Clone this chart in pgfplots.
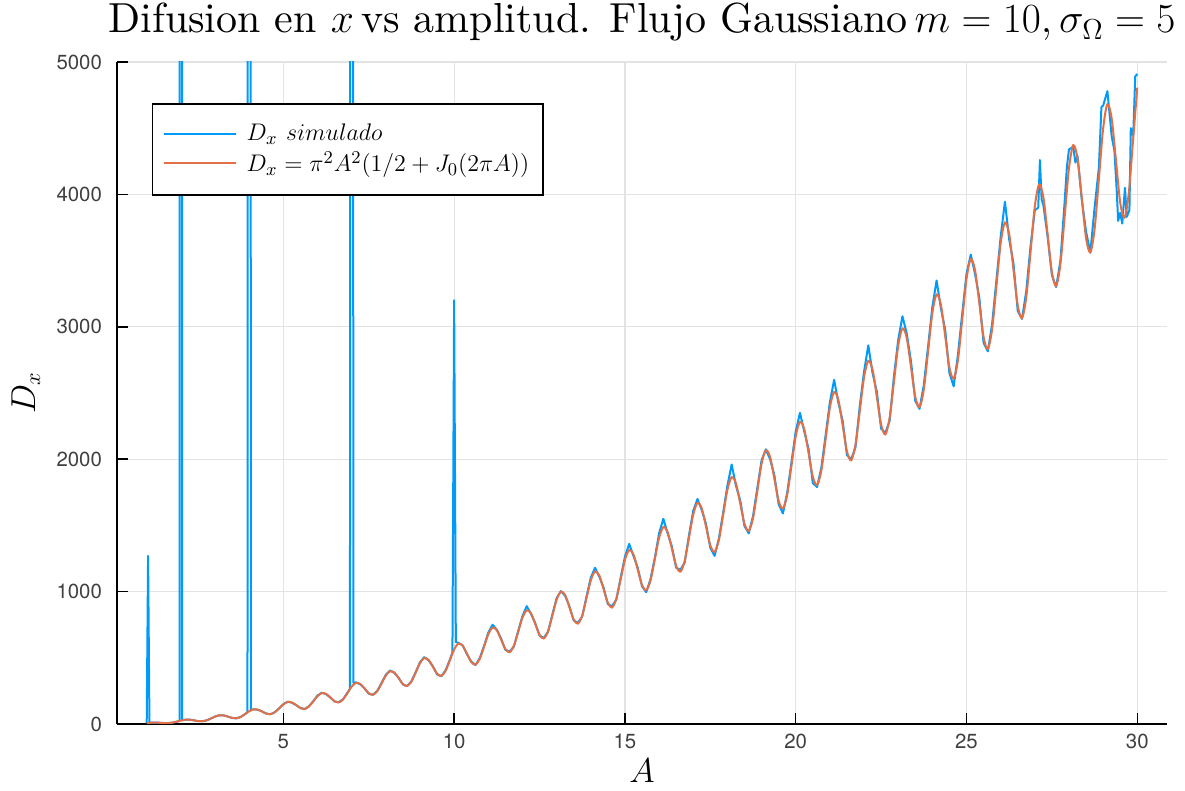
\documentclass[border=0pt]{standalone}
\usepackage{fontspec}
\usepackage{pgfplots}
\pgfplotsset{compat=1.18}
\newfontfamily\tickfont{TeX Gyre Heros}
\newfontfamily\cmten{lmroman10-regular.otf}
\definecolor{jblue}{RGB}{0,154,250}
\definecolor{jred}{RGB}{227,111,71}
\begin{document}
\begin{tikzpicture}
\begin{axis}[
  at={(0pt,0pt)}, anchor=south west,
  scale only axis, width=525pt, height=331pt,
  xmin=0.13, xmax=30.87, ymin=0, ymax=5000,
  xtick={5,10,...,30}, ytick={0,1000,...,5000},
  axis x line*=bottom, axis y line*=left,
  tick align=inside, major tick length=5.5pt,
  grid=major, major grid style={black!11, line width=0.6pt},
  axis line style={black, line width=0.75pt},
  tick style={black, line width=0.75pt},
  ticklabel style={font=\tickfont\fontsize{10.2}{12}\selectfont, text=black!75},
  /pgf/number format/assume math mode=true,
  /pgf/number format/1000 sep={},
  scaled ticks=false,
  xticklabel style={yshift=-1.5pt},
  yticklabel style={xshift=-4pt},
  legend style={at={(0.0333,0.938)}, anchor=north west, draw=black, line width=0.75pt, fill=white,
    font=\cmten\fontsize{12.5}{15}\selectfont, inner xsep=5pt, inner ysep=8pt, row sep=0pt, nodes={inner sep=2pt}},
  legend cell align=left,
  legend image code/.code={\draw[#1, line width=1pt] (0pt,0pt) -- (36pt,0pt);},
]
\addplot[jblue, line width=1pt, line join=round] table {
1.00 6
1.04 1270
1.08 9
1.125 10
1.25 11
1.375 9
1.5 7
1.625 7
1.75 10
1.875 17
1.96 23
2.00 40000
2.04 28
2.125 32
2.25 33
2.375 28
2.5 22
2.625 21
2.75 27
2.875 41
3.0 56
3.125 66
3.25 65
3.375 56
3.5 46
3.625 43
3.75 53
3.875 74
3.95 88
4.00 40000
4.05 103
4.125 111
4.25 108
4.375 95
4.5 79
4.625 74
4.75 89
4.875 118
5.0 150
5.125 168
5.25 161
5.375 143
5.5 121
5.625 113
5.75 134
5.875 172
6.0 215
6.125 236
6.25 226
6.375 200
6.5 170
6.625 165
6.75 187
6.875 236
6.95 265
7.00 40000
7.05 312
7.125 314
7.25 300
7.375 270
7.5 229
7.625 221
7.75 250
7.875 310
8.0 372
8.125 404
8.25 386
8.375 349
8.5 298
8.625 286
8.75 323
8.875 392
9.0 466
9.125 505
9.25 481
9.375 437
9.5 375
9.625 360
9.75 406
9.875 485
9.95 540
10.00 3200
10.05 620
10.125 612
10.25 594
10.375 528
10.5 472
10.625 445
10.75 497
10.875 589
11.0 690
11.125 750
11.25 712
11.375 645
11.5 560
11.625 547
11.75 585
11.875 702
12.0 815
12.125 890
12.25 832
12.375 762
12.5 668
12.625 650
12.75 696
12.875 826
13.0 950
13.125 1004
13.25 968
13.375 890
13.5 782
13.625 764
13.75 812
13.875 962
14.0 1105
14.125 1180
14.25 1112
14.375 1030
14.5 905
14.625 890
14.75 940
14.875 1105
15.0 1262
15.125 1360
15.25 1270
15.375 1180
15.5 1040
15.625 995
15.75 1095
15.875 1255
16.0 1440
16.125 1550
16.25 1440
16.375 1340
16.5 1180
16.625 1165
16.75 1220
16.875 1425
17.0 1610
17.125 1700
17.25 1615
17.375 1510
17.5 1330
17.625 1270
17.75 1400
17.875 1595
18.0 1800
18.125 1960
18.25 1800
18.375 1690
18.5 1495
18.625 1440
18.75 1570
18.875 1780
19.0 1990
19.125 2075
19.25 2000
19.375 1880
19.5 1660
19.625 1590
19.75 1745
19.875 1975
20.0 2210
20.125 2350
20.25 2210
20.375 2080
20.5 1820
20.625 1790
20.75 1935
20.875 2180
21.0 2430
21.125 2600
21.25 2425
21.375 2290
21.5 2030
21.625 2000
21.75 2090
21.875 2400
22.0 2660
22.125 2860
22.25 2650
22.375 2510
22.5 2230
22.625 2200
22.75 2290
22.875 2625
23.0 2900
23.125 3080
23.25 2950
23.375 2740
23.5 2440
23.625 2380
23.75 2560
23.875 2850
24.0 3150
24.125 3350
24.25 3140
24.375 2980
24.5 2650
24.625 2550
24.75 2790
24.875 3100
25.0 3400
25.125 3545
25.25 3400
25.375 3220
25.5 2880
25.625 2815
25.75 3020
25.875 3350
26.0 3680
26.125 3945
26.25 3660
26.375 3480
26.5 3120
26.625 3060
26.75 3270
26.875 3610
27.0 3880
27.1 3900
27.15 4260
27.2 3960
27.25 3920
27.375 3680
27.5 3390
27.625 3300
27.75 3500
27.875 3950
27.94 4210
28.0 4340
28.125 4360
28.19 4240
28.25 4290
28.375 3960
28.5 3720
28.625 3560
28.75 3900
28.875 4200
28.95 4660
29.0 4670
29.125 4780
29.25 4440
29.33 4330
29.4 4020
29.44 3800
29.5 3860
29.56 3780
29.64 4050
29.69 3830
29.77 3880
29.81 4500
29.88 4440
29.94 4890
30.0 4910
};
\addlegendentry{\hspace{3pt}$D_x\ simulado$}
\addplot[jred, line width=1pt, smooth] table {
1.000 7.1
1.125 10.0
1.250 10.8
1.375 9.3
1.500 7.0
1.625 6.5
1.750 10.0
1.875 17.3
2.000 26.0
2.125 32.0
2.250 32.5
2.375 27.8
2.500 22.1
2.625 20.6
2.750 27.2
2.875 40.8
3.000 56.0
3.125 65.5
3.250 65.1
3.375 56.2
3.500 45.9
3.625 43.2
3.750 53.3
3.875 74.1
4.000 96.7
4.125 110.3
4.250 108.6
4.375 94.5
4.500 78.7
4.625 74.3
4.750 88.3
4.875 117.3
5.000 148.2
5.125 166.1
5.250 162.7
5.375 142.6
5.500 120.6
5.625 114.2
5.750 132.5
5.875 170.3
6.000 210.3
6.125 232.8
6.250 227.5
6.375 200.6
6.500 171.7
6.625 163.0
6.750 185.9
6.875 233.3
7.000 283.0
7.125 310.3
7.250 302.8
7.375 268.4
7.500 232.0
7.625 220.8
7.750 248.5
7.875 306.0
8.000 366.1
8.125 398.5
8.250 388.5
8.375 346.1
8.500 301.5
8.625 287.5
8.750 320.3
8.875 388.7
9.000 459.7
9.125 497.5
9.250 484.7
9.375 433.7
9.500 380.3
9.625 363.4
9.750 401.5
9.875 481.2
10.000 563.7
10.125 607.1
10.250 591.4
10.375 531.2
10.500 468.5
10.625 448.3
10.750 492.0
10.875 583.6
11.000 678.2
11.125 727.3
11.250 708.4
11.375 638.5
11.500 566.0
11.625 542.4
11.750 591.8
11.875 695.9
12.000 803.0
12.125 858.1
12.250 835.8
12.375 755.7
12.500 672.9
12.625 645.6
12.750 701.1
12.875 818.0
13.000 938.1
13.125 999.5
13.250 973.5
13.375 882.8
13.500 789.2
13.625 758.1
13.750 819.7
13.875 950.0
14.000 1083.6
14.125 1151.3
14.250 1121.6
14.375 1019.7
14.500 914.9
14.625 879.8
14.750 947.8
14.875 1091.9
15.000 1239.4
15.125 1313.7
15.250 1279.9
15.375 1166.5
15.500 1050.0
15.625 1010.8
15.750 1085.3
15.875 1243.7
16.000 1405.5
16.125 1486.6
16.250 1448.6
16.375 1323.2
16.500 1194.6
16.625 1151.0
16.750 1232.2
16.875 1405.3
17.000 1581.9
17.125 1669.8
17.250 1627.6
17.375 1489.8
17.500 1348.7
17.625 1300.5
17.750 1388.6
17.875 1576.7
18.000 1768.5
18.125 1863.6
18.250 1816.8
18.375 1666.2
18.500 1512.2
18.625 1459.3
18.750 1554.5
18.875 1758.1
19.000 1965.4
19.125 2067.7
19.250 2016.3
19.375 1852.5
19.500 1685.2
19.625 1627.5
19.750 1729.9
19.875 1949.3
20.000 2172.6
20.125 2282.3
20.250 2226.0
20.375 2048.6
20.500 1867.7
20.625 1805.0
20.750 1914.8
20.875 2150.4
21.000 2390.0
21.125 2507.3
21.250 2446.0
21.375 2254.7
21.500 2059.7
21.625 1991.8
21.750 2109.1
21.875 2361.4
22.000 2617.7
22.125 2742.6
22.250 2676.2
22.375 2470.6
22.500 2261.2
22.625 2188.0
22.750 2313.0
22.875 2582.2
23.000 2855.5
23.125 2988.3
23.250 2916.6
23.375 2696.3
23.500 2472.2
23.625 2393.6
23.750 2526.4
23.875 2812.9
24.000 3103.6
24.125 3244.4
24.250 3167.3
24.375 2932.0
24.500 2692.7
24.625 2608.5
24.750 2749.4
24.875 3053.5
25.000 3361.9
25.125 3510.8
25.250 3428.1
25.375 3177.5
25.500 2922.8
25.625 2832.9
25.750 2981.8
25.875 3303.9
26.000 3630.4
26.125 3787.6
26.250 3699.2
26.375 3432.9
26.500 3162.4
26.625 3066.6
26.750 3223.8
26.875 3564.2
27.000 3909.1
27.125 4074.7
27.250 3980.4
27.375 3698.1
27.500 3411.6
27.625 3309.8
27.750 3475.4
27.875 3834.4
28.000 4198.0
28.125 4372.1
28.250 4271.8
28.375 3973.2
28.500 3670.3
28.625 3562.4
28.750 3736.5
28.875 4114.5
29.000 4497.1
29.125 4679.8
29.250 4573.4
29.375 4258.2
29.500 3938.6
29.625 3824.4
29.750 4007.2
29.875 4404.4
30.000 4806.3
};
\addlegendentry{\hspace{3pt}$D_x = \pi^2 A^2(1/2 + J_0(2\pi A))$\hspace{14pt}}
\end{axis}
\node[anchor=base, font=\cmten\fontsize{21}{25}\selectfont] at (262.5pt,345.5pt) {Difusion en $x$\,vs amplitud. Flujo Gaussiano\,$m = 10, \sigma_\Omega = 5$};
\node[anchor=base, font=\cmten\fontsize{16}{19}\selectfont] at (262.5pt,-29.5pt) {$A$};
\node[rotate=90, anchor=base, font=\cmten\fontsize{16}{19}\selectfont] at (-41pt,165.5pt) {$D_x$};
\pgfresetboundingbox
\path (-58.5pt,-33.5pt) rectangle (534pt,362pt);
\end{tikzpicture}
\end{document}
